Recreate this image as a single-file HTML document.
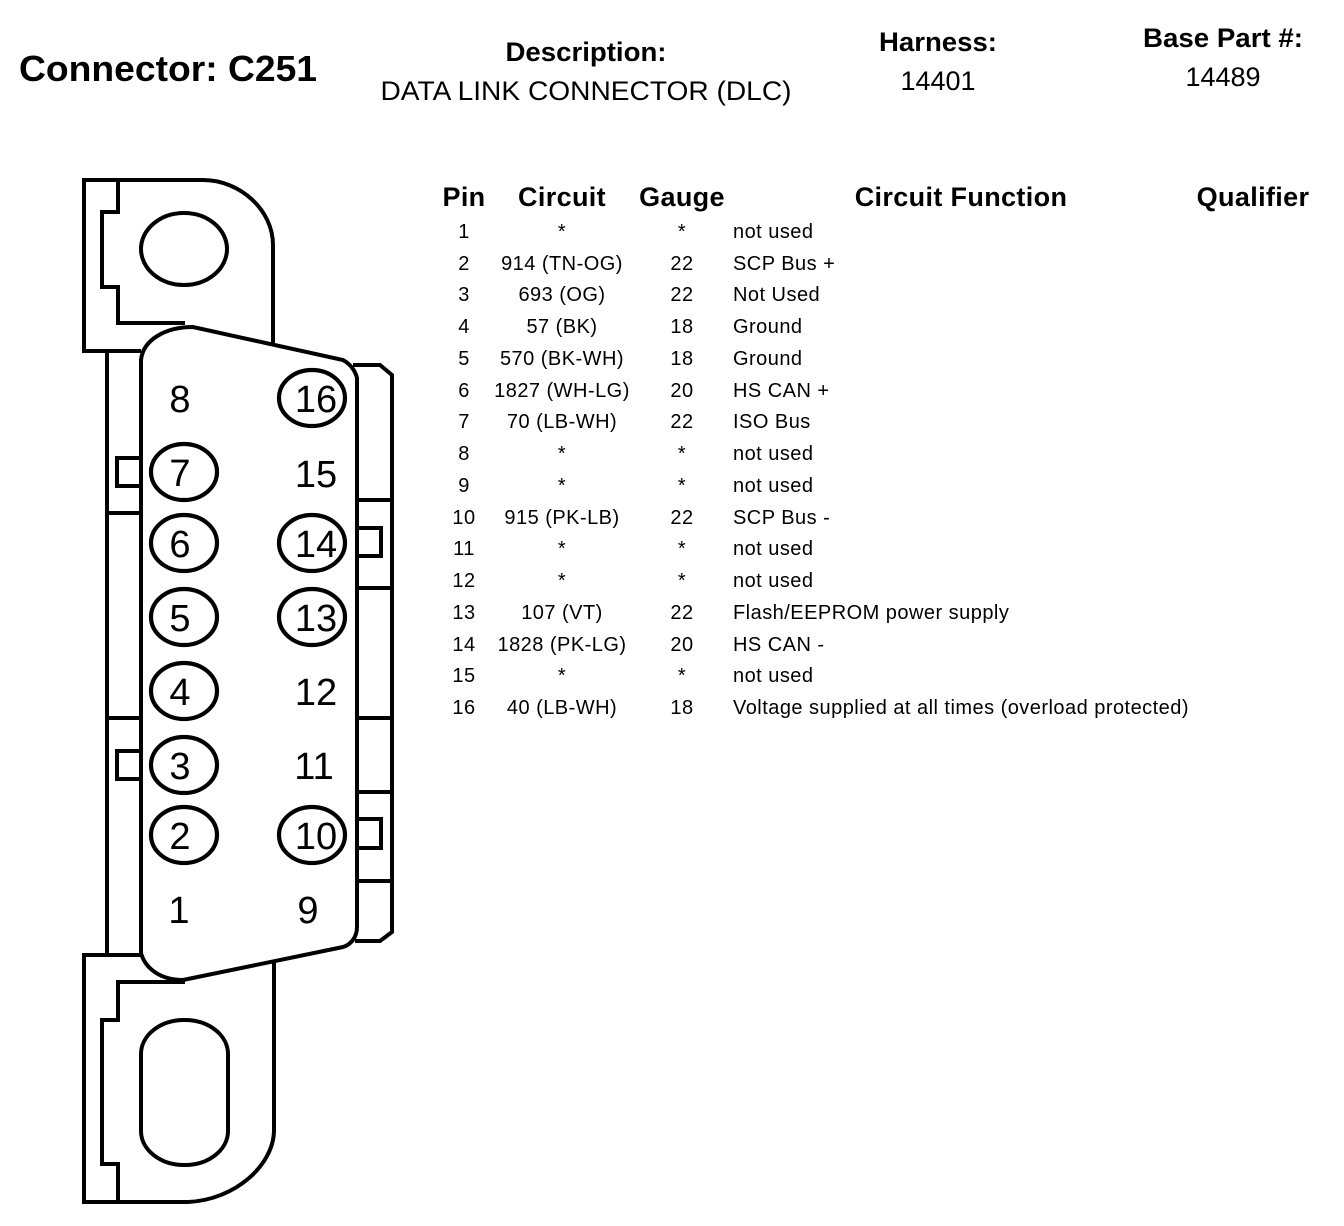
<!DOCTYPE html>
<html><head><meta charset="utf-8"><style>
html,body{margin:0;padding:0;background:#fff}
svg{display:block}
text{font-family:"Liberation Sans",Arial,sans-serif;fill:#000}
.b{font-weight:bold}
.h{font-size:27px;font-weight:bold;text-anchor:middle}
.c{letter-spacing:.35px}
.t{font-size:20px;letter-spacing:.47px}
.m{text-anchor:middle}
.n{font-size:38px;text-anchor:middle}
.s{fill:none;stroke:#000;stroke-width:4}
.e{fill:none;stroke:#000;stroke-width:4.2}
</style></head><body>
<svg width="1344" height="1226" viewBox="0 0 1344 1226" xmlns="http://www.w3.org/2000/svg">
<text x="19" y="81" class="b" font-size="36" textLength="298" lengthAdjust="spacingAndGlyphs">Connector: C251</text>
<text x="586" y="61" class="h" textLength="161" lengthAdjust="spacingAndGlyphs">Description:</text>
<text x="586" y="100" class="m" font-size="27" textLength="411" lengthAdjust="spacingAndGlyphs">DATA LINK CONNECTOR (DLC)</text>
<text x="938" y="51" class="h" textLength="118" lengthAdjust="spacingAndGlyphs">Harness:</text>
<text x="938" y="90" class="m" font-size="27">14401</text>
<text x="1223" y="47" class="h" textLength="160" lengthAdjust="spacingAndGlyphs">Base Part #:</text>
<text x="1223" y="86" class="m" font-size="27">14489</text>

<g class="s">
<path class="s" d="M141 351H84V180H203C240 180 273 210 273 245V343"/>
<path class="s" d="M118 180V212H102V287H118V323H185"/>
<ellipse class="s" cx="184" cy="249" rx="43" ry="36"/>
<path class="s" d="M107 351V955"/>
<path class="s" d="M141 360C143 340 165 327 193 327L343 360C350 364 355 370 357 378V927C357 938 350 945 343 947L183 980C160 980 145 968 141 953Z"/>
<path class="s" d="M353 365H380L392 375V932L380 941H355"/>
<path class="s" d="M107 513H141M107 718H141M357 500H392M357 588H392M357 718H392M357 792H392M357 881H392"/>
<path class="s" d="M141 458H117V486H141M141 751H117V779H141M357 528H381V556H357M357 819H381V848H357"/>
<path class="s" d="M141 955H84V1202H188C235 1200 274 1165 274 1130V961"/>
<path class="s" d="M185 982H118V1020H102V1164H118V1202"/>
<rect class="s" x="141" y="1020" width="87" height="145" rx="43" ry="34"/>
</g>
<g>
<ellipse class="e" cx="184" cy="472" rx="33" ry="28"/>
<ellipse class="e" cx="184" cy="543" rx="33" ry="28"/>
<ellipse class="e" cx="184" cy="617" rx="33" ry="28"/>
<ellipse class="e" cx="184" cy="691" rx="33" ry="28"/>
<ellipse class="e" cx="184" cy="765" rx="33" ry="28"/>
<ellipse class="e" cx="184" cy="835" rx="33" ry="28"/>
<ellipse class="e" cx="312" cy="398" rx="33" ry="28"/>
<ellipse class="e" cx="312" cy="543" rx="33" ry="28"/>
<ellipse class="e" cx="312" cy="617" rx="33" ry="28"/>
<ellipse class="e" cx="312" cy="835" rx="33" ry="28"/>
</g>
<text class="n" x="180" y="412">8</text>
<text class="n" x="180" y="486">7</text>
<text class="n" x="180" y="557">6</text>
<text class="n" x="180" y="631">5</text>
<text class="n" x="180" y="705">4</text>
<text class="n" x="180" y="779">3</text>
<text class="n" x="180" y="849">2</text>
<text class="n" x="179" y="923">1</text>
<text class="n" x="316" y="412">16</text>
<text class="n" x="316" y="487">15</text>
<text class="n" x="316" y="557">14</text>
<text class="n" x="316" y="631">13</text>
<text class="n" x="316" y="705">12</text>
<text class="n" x="314" y="779">11</text>
<text class="n" x="316" y="849">10</text>
<text class="n" x="308" y="923">9</text>

<text class="h c" x="464" y="206">Pin</text>
<text class="h c" x="562" y="206">Circuit</text>
<text class="h c" x="682" y="206">Gauge</text>
<text class="h c" x="961" y="206">Circuit Function</text>
<text class="h c" x="1253" y="206">Qualifier</text>

<g class="t">
<text class="m" x="464" y="238">1</text><text class="m" x="562" y="238">*</text><text class="m" x="682" y="238">*</text><text x="733" y="238">not used</text>
<text class="m" x="464" y="270">2</text><text class="m" x="562" y="270">914 (TN-OG)</text><text class="m" x="682" y="270">22</text><text x="733" y="270">SCP Bus +</text>
<text class="m" x="464" y="301">3</text><text class="m" x="562" y="301">693 (OG)</text><text class="m" x="682" y="301">22</text><text x="733" y="301">Not Used</text>
<text class="m" x="464" y="333">4</text><text class="m" x="562" y="333">57 (BK)</text><text class="m" x="682" y="333">18</text><text x="733" y="333">Ground</text>
<text class="m" x="464" y="365">5</text><text class="m" x="562" y="365">570 (BK-WH)</text><text class="m" x="682" y="365">18</text><text x="733" y="365">Ground</text>
<text class="m" x="464" y="397">6</text><text class="m" x="562" y="397">1827 (WH-LG)</text><text class="m" x="682" y="397">20</text><text x="733" y="397">HS CAN +</text>
<text class="m" x="464" y="428">7</text><text class="m" x="562" y="428">70 (LB-WH)</text><text class="m" x="682" y="428">22</text><text x="733" y="428">ISO Bus</text>
<text class="m" x="464" y="460">8</text><text class="m" x="562" y="460">*</text><text class="m" x="682" y="460">*</text><text x="733" y="460">not used</text>
<text class="m" x="464" y="492">9</text><text class="m" x="562" y="492">*</text><text class="m" x="682" y="492">*</text><text x="733" y="492">not used</text>
<text class="m" x="464" y="524">10</text><text class="m" x="562" y="524">915 (PK-LB)</text><text class="m" x="682" y="524">22</text><text x="733" y="524">SCP Bus -</text>
<text class="m" x="464" y="555">11</text><text class="m" x="562" y="555">*</text><text class="m" x="682" y="555">*</text><text x="733" y="555">not used</text>
<text class="m" x="464" y="587">12</text><text class="m" x="562" y="587">*</text><text class="m" x="682" y="587">*</text><text x="733" y="587">not used</text>
<text class="m" x="464" y="619">13</text><text class="m" x="562" y="619">107 (VT)</text><text class="m" x="682" y="619">22</text><text x="733" y="619">Flash/EEPROM power supply</text>
<text class="m" x="464" y="651">14</text><text class="m" x="562" y="651">1828 (PK-LG)</text><text class="m" x="682" y="651">20</text><text x="733" y="651">HS CAN -</text>
<text class="m" x="464" y="682">15</text><text class="m" x="562" y="682">*</text><text class="m" x="682" y="682">*</text><text x="733" y="682">not used</text>
<text class="m" x="464" y="714">16</text><text class="m" x="562" y="714">40 (LB-WH)</text><text class="m" x="682" y="714">18</text><text x="733" y="714">Voltage supplied at all times (overload protected)</text>
</g>
</svg>
</body></html>
